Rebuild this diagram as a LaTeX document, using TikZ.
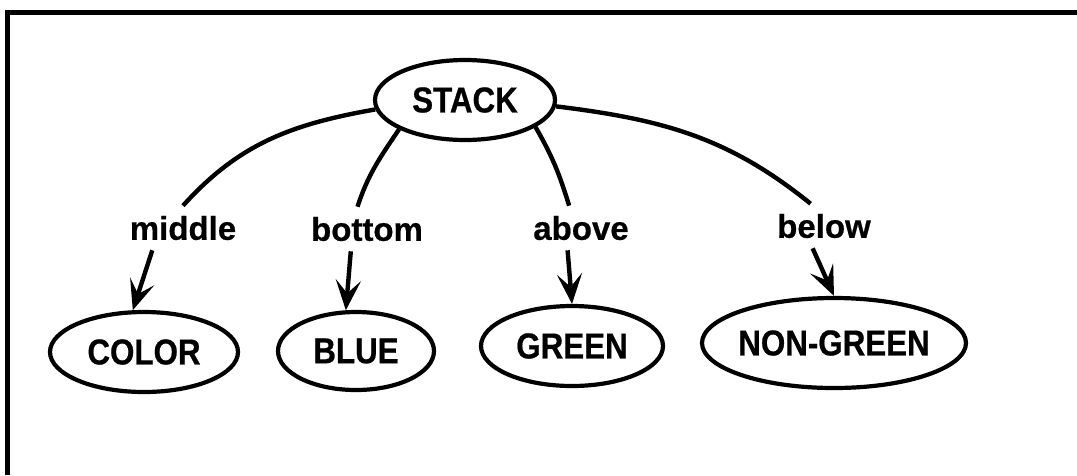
\documentclass[tikz,border=0pt]{standalone}
\usepackage{fontspec}
\usetikzlibrary{shapes.geometric,arrows.meta}
\newfontfamily\nodefont[FakeStretch=0.87,FakeBold=0.6]{Liberation Sans Bold}
\newfontfamily\lblfont[FakeBold=0.6]{Liberation Sans Bold}
\newcommand\zb[1]{\makebox[0pt]{#1}}
\tikzset{
  ell/.style={ellipse, draw, line width=4.2pt, inner sep=0pt,
    font=\nodefont\fontsize{36}{42}\selectfont},
  lbl/.style={inner sep=10pt, font=\lblfont\fontsize{33}{39}\selectfont},
  edge/.style={line width=4.4pt},
  arr/.style={line width=4.4pt, -{Stealth[length=30pt,width=25pt,inset=13pt]}}
}
\begin{document}
\begin{tikzpicture}[x=1pt,y=-1pt]
\useasboundingbox (0,0) rectangle (1077,475);
% frame
\coordinate (fr1) at (1077,12);
\coordinate (fr2) at (7,12);
\coordinate (fr3) at (7,475);
\draw[line width=5pt] (fr1) -- (fr2) -- (fr3);
% nodes
\node[ell, minimum width=180pt, minimum height=80pt] (stack) at (465,100) {\zb{STACK}};
\node[ell, minimum width=188pt, minimum height=80pt] (color) at (144,352) {\zb{COLOR}};
\node[ell, minimum width=156pt, minimum height=78pt] (blue) at (356,351) {\zb{BLUE}};
\node[ell, minimum width=182pt, minimum height=80pt] (green) at (572,346) {\zb{GREEN}};
\node[ell, minimum width=264pt, minimum height=90pt] (ng) at (834,343) {\zb{NON-GREEN}};
% labels
\node[lbl] (mid) at (183,228) {middle};
\node[lbl] (bot) at (367,229) {bottom};
\node[lbl] (abv) at (581,228) {above};
\node[lbl] (blw) at (824,226) {below};
% curves
\draw[edge] (stack.186) to[out=190,in=48] (mid.north);
\draw[edge] (stack.204) to[out=236,in=72] (bot.113);
\draw[edge] (stack.339) to[out=300,in=107] (abv.118);
\draw[edge] (stack.356) to[out=353,in=141] (blw.121);
% arrows
\draw[arr] (mid.216) -- (color.105);
\draw[arr] (bot.234) -- (blue.104);
\draw[arr] (abv.239) -- (green.north);
\draw[arr] (blw.243) -- (ng.north);
\end{tikzpicture}
\end{document}
